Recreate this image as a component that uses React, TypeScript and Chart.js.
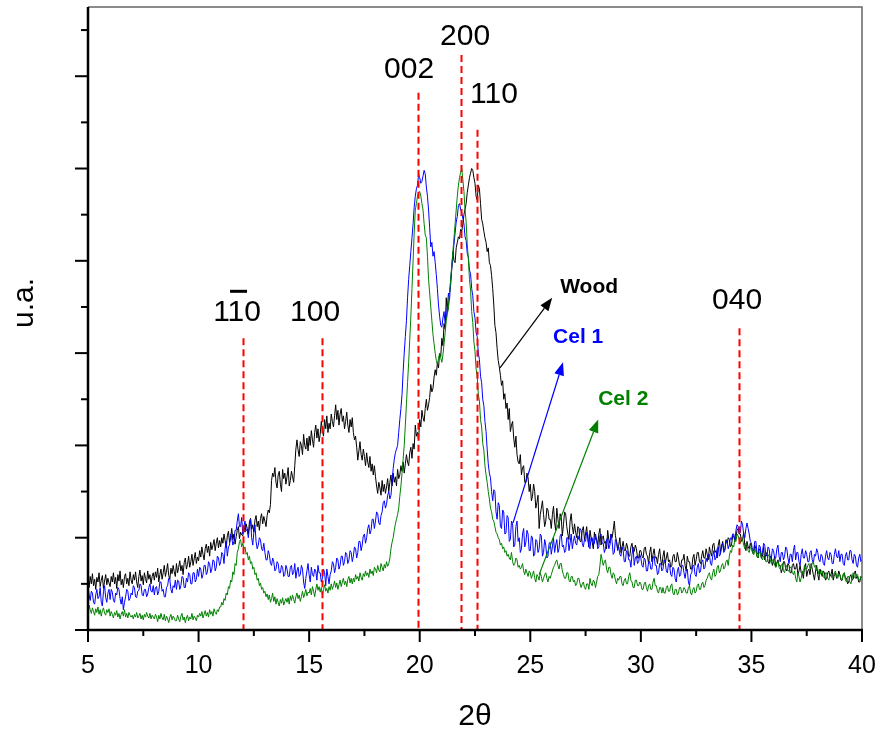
import React, { useEffect, useRef } from "react";
import { Chart, registerables } from "chart.js";

Chart.register(...registerables);

// ---- sampling grid (2θ, degrees) ----
const X_START = 5;
const X_STEP = 0.05;

// ---- intensity (a.u.), one row per degree: d.00 ... d.95 ----
const woodValues = [
  56, 46, 58, 50, 61, 48, 55, 44, 57, 52, 62, 47, 54, 59, 45, 53, 60, 49, 56, 51,
  47, 58, 52, 62, 50, 57, 45, 60, 53, 64, 49, 55, 46, 58, 61, 50, 56, 48, 63, 54,
  50, 60, 54, 63, 52, 46, 58, 65, 53, 59, 49, 62, 56, 51, 64, 55, 60, 50, 58, 62,
  54, 63, 57, 67, 52, 60, 66, 55, 62, 70, 58, 64, 72, 59, 55, 67, 61, 70, 63, 58,
  72, 62, 68, 75, 64, 70, 60, 73, 78, 66, 71, 80, 68, 74, 82, 70, 77, 84, 72, 79,
  75, 86, 79, 90, 82, 76, 88, 93, 84, 91, 80, 95, 87, 92, 98, 86, 94, 100, 89, 97,
  90, 100, 94, 104, 97, 89, 102, 107, 95, 100, 110, 98, 104, 93, 101, 108, 112, 99, 106, 103,
  102, 113, 106, 115, 110, 104, 117, 121, 109, 114, 106, 119, 124, 112, 118, 108, 121, 126, 115, 123,
  118, 112, 124, 130, 127, 136, 162, 170, 166, 176, 160, 154, 168, 172, 158, 150, 174, 164, 170, 158,
  166, 176, 156, 162, 172, 166, 160, 178, 196, 206, 195, 188, 204, 200, 190, 212, 200, 196, 208, 194,
  210, 200, 216, 206, 198, 214, 222, 208, 218, 204, 212, 226, 216, 210, 228, 218, 232, 214, 224, 218,
  234, 226, 220, 232, 244, 228, 238, 222, 234, 240, 226, 232, 218, 226, 236, 222, 214, 228, 220, 230,
  214, 206, 210, 198, 184, 194, 204, 190, 184, 196, 188, 178, 192, 182, 176, 188, 172, 180, 168, 178,
  166, 156, 148, 160, 154, 146, 162, 150, 158, 148, 155, 164, 150, 160, 168, 156, 170, 160, 166, 156,
  174, 164, 168, 178, 172, 182, 170, 180, 190, 182, 178, 192, 198, 186, 202, 196, 222, 210, 214, 206,
  228, 220, 238, 230, 226, 240, 250, 238, 244, 252, 266, 258, 262, 274, 282, 276, 290, 284, 300, 296,
  316, 308, 332, 326, 360, 344, 350, 366, 374, 392, 410, 400, 398, 414, 420, 426, 424, 434, 432, 440,
  450, 456, 462, 474, 482, 490, 495, 500, 498, 490, 484, 470, 466, 482, 478, 462, 445, 440, 432, 425,
  420, 410, 414, 398, 395, 384, 370, 352, 330, 322, 305, 292, 285, 276, 265, 270, 250, 256, 240, 246,
  228, 240, 215, 222, 226, 208, 198, 210, 190, 182, 180, 190, 168, 176, 178, 160, 160, 170, 165, 150,
  158, 140, 145, 158, 150, 132, 138, 146, 110, 125, 132, 140, 125, 112, 118, 132, 130, 120, 120, 110,
  125, 134, 116, 108, 132, 120, 110, 126, 122, 102, 114, 128, 126, 112, 104, 98, 118, 126, 112, 104,
  115, 106, 100, 112, 110, 96, 96, 108, 112, 98, 104, 112, 98, 90, 108, 100, 95, 88, 106, 98,
  98, 92, 104, 110, 92, 100, 102, 94, 96, 88, 108, 98, 94, 104, 100, 108, 118, 102, 96, 88,
  92, 100, 84, 90, 96, 86, 86, 94, 90, 80, 80, 90, 94, 84, 85, 92, 88, 78, 78, 86,
  86, 80, 78, 88, 90, 82, 80, 72, 84, 90, 74, 82, 88, 78, 79, 72, 82, 88, 76, 70,
  80, 86, 72, 78, 84, 74, 76, 68, 70, 80, 82, 74, 74, 84, 78, 70, 68, 76, 76, 82,
  70, 64, 80, 74, 74, 66, 66, 78, 82, 70, 76, 84, 84, 74, 72, 80, 86, 78, 78, 88,
  82, 76, 90, 84, 80, 92, 94, 84, 86, 78, 92, 98, 84, 90, 96, 86, 88, 98, 94, 100,
  98, 90, 92, 102, 102, 96, 100, 108, 110, 104, 104, 96, 98, 106, 92, 86, 96, 90, 88, 94,
  90, 84, 82, 92, 88, 80, 78, 88, 86, 78, 80, 90, 76, 82, 84, 74, 72, 80, 78, 70,
  74, 80, 68, 72, 76, 70, 70, 62, 66, 74, 74, 66, 64, 72, 70, 62, 62, 70, 72, 66,
  66, 72, 60, 64, 70, 62, 62, 56, 68, 72, 58, 64, 66, 60, 72, 66, 60, 54, 64, 70,
  60, 54, 66, 62, 58, 64, 62, 54, 56, 62, 64, 58, 60, 66, 54, 60, 62, 56, 58, 64,
  60, 54, 54, 60, 62, 56, 56, 50, 52, 58, 60, 54, 55, 62, 64, 56, 58, 52, 52, 58,
  56,
];

const cel1Values = [
  47, 38, 32, 42, 40, 30, 28, 38, 44, 34, 36, 46, 30, 26, 42, 48, 35, 30, 40, 44,
  33, 44, 41, 32, 30, 40, 38, 46, 44, 34, 28, 36, 22, 30, 36, 44, 42, 32, 34, 40,
  38, 48, 46, 36, 35, 42, 43, 50, 48, 38, 37, 44, 44, 36, 39, 46, 50, 42, 41, 48,
  38, 46, 47, 38, 42, 52, 52, 42, 44, 36, 36, 46, 48, 56, 55, 44, 40, 48, 46, 54,
  44, 54, 53, 44, 48, 58, 57, 46, 46, 56, 52, 62, 60, 50, 50, 62, 62, 52, 55, 66,
  58, 68, 66, 56, 60, 70, 70, 60, 63, 74, 72, 62, 66, 76, 75, 64, 68, 80, 78, 70,
  74, 84, 82, 72, 88, 96, 80, 90, 92, 104, 100, 92, 96, 108, 108, 118, 126, 112, 112, 122,
  104, 112, 118, 108, 108, 100, 112, 120, 100, 92, 106, 114, 96, 88, 92, 100, 98, 88, 86, 94,
  84, 76, 76, 86, 82, 72, 70, 78, 74, 64, 66, 74, 72, 62, 62, 70, 68, 58, 60, 70,
  66, 58, 58, 68, 70, 60, 62, 72, 56, 64, 68, 58, 60, 70, 66, 52, 45, 56, 64, 72,
  60, 52, 68, 60, 58, 66, 64, 54, 70, 62, 62, 52, 56, 66, 62, 48, 66, 58, 50, 60,
  64, 74, 72, 62, 68, 78, 76, 66, 70, 80, 80, 70, 74, 84, 82, 72, 76, 86, 84, 74,
  80, 90, 88, 78, 84, 96, 96, 86, 92, 102, 104, 94, 100, 110, 114, 104, 108, 120, 120, 110,
  118, 128, 126, 116, 114, 124, 128, 138, 140, 132, 136, 146, 150, 142, 146, 160, 175, 185, 192, 196,
  200, 214, 228, 240, 255, 280, 300, 318, 335, 360, 380, 395, 410, 425, 440, 458, 470, 478, 482, 494,
  490, 484, 486, 492, 498, 494, 480, 470, 455, 436, 415, 420, 405, 410, 398, 385, 370, 352, 340, 330,
  328, 338, 345, 332, 338, 350, 365, 358, 380, 392, 405, 418, 430, 442, 448, 460, 462, 456, 452, 446,
  440, 426, 422, 408, 404, 390, 386, 370, 362, 345, 338, 322, 318, 300, 293, 275, 268, 250, 243, 226,
  215, 196, 180, 170, 165, 150, 140, 152, 150, 128, 120, 138, 135, 112, 110, 130, 128, 104, 105, 124,
  122, 96, 98, 118, 115, 90, 92, 112, 118, 96, 100, 84, 88, 104, 110, 90, 95, 108, 104, 86,
  86, 102, 100, 80, 82, 98, 96, 84, 88, 104, 102, 80, 84, 98, 92, 78, 80, 94, 95, 82,
  90, 100, 84, 92, 98, 84, 88, 102, 104, 90, 92, 84, 86, 100, 100, 86, 94, 104, 88, 96,
  102, 94, 92, 102, 98, 110, 108, 94, 90, 98, 96, 106, 104, 90, 88, 100, 100, 92, 94, 104,
  98, 88, 90, 102, 104, 94, 94, 84, 88, 98, 100, 88, 92, 104, 96, 82, 84, 98, 96, 86,
  90, 82, 80, 90, 86, 74, 74, 86, 84, 76, 76, 68, 82, 90, 70, 78, 80, 72, 74, 82,
  78, 70, 68, 78, 76, 64, 64, 74, 74, 66, 66, 78, 80, 70, 70, 60, 62, 72, 72, 64,
  66, 76, 74, 64, 62, 72, 70, 60, 58, 68, 66, 56, 52, 64, 68, 58, 60, 70, 70, 62,
  56, 64, 66, 52, 48, 60, 62, 70, 70, 60, 58, 68, 72, 62, 64, 74, 76, 66, 68, 78,
  74, 82, 82, 72, 70, 80, 86, 76, 78, 88, 90, 80, 82, 92, 94, 84, 86, 96, 96, 88,
  92, 100, 98, 104, 104, 96, 108, 114, 112, 104, 106, 118, 114, 104, 100, 110, 116, 110, 104, 96,
  94, 86, 86, 96, 96, 84, 82, 92, 90, 80, 84, 94, 92, 82, 80, 90, 88, 78, 78, 88,
  86, 78, 78, 88, 92, 80, 74, 84, 84, 76, 80, 90, 88, 78, 72, 82, 82, 74, 86, 92,
  76, 84, 84, 74, 70, 82, 88, 78, 78, 86, 82, 74, 74, 84, 86, 76, 72, 82, 80, 88,
  84, 76, 74, 82, 80, 72, 70, 80, 86, 78, 76, 84, 82, 72, 72, 82, 88, 80, 78, 86,
  74, 82, 82, 72, 70, 80, 84, 76, 76, 86, 86, 76, 72, 82, 80, 70, 68, 78, 82, 74,
  76,
];

const cel2Values = [
  14, 27, 22, 18, 24, 20, 16, 23, 19, 25, 17, 22, 15, 21, 24, 18, 16, 22, 19, 23,
  15, 20, 17, 13, 19, 16, 21, 14, 18, 12, 17, 20, 15, 22, 14, 18, 13, 19, 16, 14,
  16, 12, 17, 14, 19, 13, 15, 18, 12, 16, 11, 17, 14, 19, 15, 13, 18, 12, 16, 14,
  12, 17, 14, 9, 16, 12, 18, 13, 11, 17, 10, 15, 12, 8, 14, 17, 11, 15, 13, 10,
  10, 16, 12, 9, 15, 18, 11, 14, 8, 13, 16, 10, 14, 12, 18, 11, 15, 13, 10, 16,
  14, 18, 15, 20, 13, 17, 21, 15, 19, 14, 22, 17, 20, 15, 23, 19, 17, 22, 20, 25,
  25, 30, 27, 34, 32, 40, 38, 47, 45, 54, 52, 63, 60, 72, 70, 84, 88, 96, 98, 90,
  94, 88, 90, 82, 84, 76, 80, 72, 74, 66, 68, 60, 62, 54, 56, 48, 51, 44, 46, 40,
  42, 36, 39, 33, 38, 30, 34, 40, 31, 36, 28, 34, 30, 26, 33, 29, 35, 27, 31, 34,
  30, 35, 28, 37, 32, 38, 33, 29, 36, 40, 34, 38, 31, 36, 42, 35, 39, 44, 37, 41,
  40, 45, 38, 47, 42, 36, 44, 50, 43, 47, 41, 46, 38, 44, 49, 42, 45, 40, 47, 43,
  50, 44, 48, 53, 46, 51, 44, 49, 54, 47, 52, 56, 49, 53, 47, 55, 58, 51, 56, 50,
  56, 52, 60, 55, 58, 53, 62, 57, 54, 61, 58, 64, 59, 62, 57, 66, 61, 64, 59, 68,
  66, 62, 70, 65, 63, 72, 68, 64, 71, 67, 74, 69, 72, 78, 88, 95, 100, 108, 115, 120,
  125, 132, 145, 156, 170, 185, 200, 222, 245, 268, 290, 315, 340, 370, 400, 430, 455, 462, 470, 474,
  475, 470, 462, 455, 440, 428, 425, 405, 380, 365, 350, 335, 320, 310, 300, 292, 288, 294, 300, 295,
  290, 298, 310, 322, 335, 342, 350, 365, 380, 395, 410, 425, 440, 455, 470, 482, 490, 496, 500, 488,
  475, 455, 442, 418, 402, 380, 368, 345, 333, 312, 302, 283, 275, 255, 248, 228, 220, 202, 195, 178,
  168, 160, 150, 142, 132, 128, 120, 118, 112, 106, 104, 100, 98, 92, 94, 88, 90, 84, 86, 80,
  82, 78, 76, 84, 74, 70, 72, 78, 76, 68, 70, 66, 68, 72, 64, 60, 66, 62, 58, 64,
  62, 56, 60, 64, 56, 52, 60, 58, 54, 62, 58, 52, 56, 60, 62, 56, 52, 58, 56, 60,
  64, 68, 70, 74, 76, 70, 66, 72, 72, 64, 60, 56, 56, 62, 62, 54, 52, 58, 58, 52,
  54, 48, 50, 56, 56, 50, 46, 50, 52, 46, 44, 50, 50, 44, 56, 50, 48, 54, 52, 46,
  52, 58, 60, 70, 82, 76, 70, 74, 76, 66, 62, 68, 68, 60, 56, 62, 60, 54, 50, 56,
  54, 58, 58, 50, 48, 54, 56, 50, 50, 58, 62, 54, 52, 46, 46, 54, 54, 48, 48, 52,
  50, 44, 44, 50, 52, 46, 42, 48, 50, 44, 44, 52, 56, 48, 48, 42, 40, 46, 46, 40,
  46, 40, 40, 46, 48, 42, 42, 48, 50, 40, 38, 44, 44, 38, 40, 46, 46, 40, 42, 46,
  44, 40, 40, 46, 48, 40, 38, 44, 46, 40, 42, 48, 50, 44, 44, 50, 52, 46, 48, 54,
  56, 60, 62, 56, 54, 62, 66, 58, 60, 68, 70, 62, 64, 70, 72, 66, 68, 74, 76, 70,
  80, 86, 84, 92, 90, 98, 96, 104, 102, 98, 94, 100, 98, 92, 88, 94, 92, 86, 84, 90,
  90, 84, 82, 86, 86, 80, 78, 84, 84, 78, 76, 80, 80, 74, 74, 80, 82, 76, 72, 76,
  76, 70, 68, 74, 74, 68, 66, 70, 72, 64, 62, 68, 70, 64, 64, 68, 68, 62, 60, 64,
  56, 52, 62, 58, 52, 56, 64, 60, 70, 66, 66, 70, 72, 66, 68, 72, 74, 68, 70, 64,
  66, 60, 60, 64, 64, 58, 56, 62, 62, 56, 54, 60, 60, 56, 58, 62, 64, 58, 56, 60,
  60, 56, 54, 60, 62, 54, 52, 58, 58, 52, 50, 56, 62, 58, 56, 60, 60, 54, 54, 58,
  58,
];

// ---- axes ----
const X_MIN = 5;
const X_MAX = 40;
const Y_MIN = 0;
const Y_MAX = 675;
const xMajorTicks = [5, 10, 15, 20, 25, 30, 35, 40];
const xTickLabels = ["5", "10", "15", "20", "25", "30", "35", "40"];
const xMinorTicks = [7.5, 12.5, 17.5, 22.5, 27.5, 32.5, 37.5];
const yMajorTicks = [0, 100, 200, 300, 400, 500, 600];
const yMinorTicks = [50, 150, 250, 350, 450, 550, 650];

// ---- reflections ----
const peakNames = ["110", "100", "002", "200", "110", "040"];
const peakOverbar = [true, false, false, false, false, false];
const peakPositions = [12.03, 15.6, 19.94, 21.86, 22.58, 34.44];
const peakLineTops = [316, 316, 582, 623, 542, 327];
const peakLabelX = [11.74, 15.27, 19.52, 22.05, 23.36, 34.35];
const peakLabelY = [335, 335, 598, 634, 571, 348];

// ---- series annotations ----
const seriesNames = ["Wood", "Cel 1", "Cel 2"];
const seriesColors = ["#000000", "#0000ff", "#008000"];
const seriesLabelX = [26.35, 26.03, 28.07];
const seriesLabelY = [365, 311, 244];
const arrowFromX = [23.63, 24.22, 25.4];
const arrowFromY = [284, 116, 60];
const arrowToX = [25.99, 26.48, 28.07];
const arrowToY = [360, 290, 228];

const FONT = '"Liberation Sans", Arial, Helvetica, sans-serif';

function toPoints(vals: number[]) {
  return vals.map((v, i) => ({ x: +(X_START + i * X_STEP).toFixed(3), y: v }));
}

const decorPlugin = {
  id: "decor",
  afterDatasetsDraw(chart: any) {
    const { ctx, chartArea: a } = chart;
    const xs = chart.scales.x;
    const ys = chart.scales.y;
    ctx.save();

    // red dashed reflection lines
    ctx.strokeStyle = "#ff0000";
    ctx.lineWidth = 2;
    ctx.setLineDash([7, 4]);
    peakPositions.forEach((p, i) => {
      const px = Math.round(xs.getPixelForValue(p)) + 0.5;
      ctx.beginPath();
      ctx.moveTo(px, ys.getPixelForValue(peakLineTops[i]));
      ctx.lineTo(px, a.bottom);
      ctx.stroke();
    });
    ctx.setLineDash([]);

    // reflection labels
    ctx.fillStyle = "#000";
    ctx.font = `30px ${FONT}`;
    ctx.textAlign = "center";
    ctx.textBaseline = "alphabetic";
    peakNames.forEach((n, i) => {
      const cx = xs.getPixelForValue(peakLabelX[i]);
      const by = ys.getPixelForValue(peakLabelY[i]);
      ctx.fillText(n, cx, by);
      if (peakOverbar[i]) {
        const w = ctx.measureText(n).width;
        const left = cx - w / 2;
        const cw = w / n.length;
        ctx.fillRect(left + cw + 1, by - 31, cw + 1, 3);
      }
    });

    // arrows
    arrowFromX.forEach((fx, i) => {
      const x0 = xs.getPixelForValue(fx);
      const y0 = ys.getPixelForValue(arrowFromY[i]);
      const x1 = xs.getPixelForValue(arrowToX[i]);
      const y1 = ys.getPixelForValue(arrowToY[i]);
      const ang = Math.atan2(y1 - y0, x1 - x0);
      const hl = 13;
      const hw = 5;
      const bx = x1 - hl * Math.cos(ang);
      const by = y1 - hl * Math.sin(ang);
      ctx.strokeStyle = seriesColors[i];
      ctx.fillStyle = seriesColors[i];
      ctx.lineWidth = 1.2;
      ctx.beginPath();
      ctx.moveTo(x0, y0);
      ctx.lineTo(bx, by);
      ctx.stroke();
      ctx.beginPath();
      ctx.moveTo(x1, y1);
      ctx.lineTo(bx + hw * Math.sin(ang), by - hw * Math.cos(ang));
      ctx.lineTo(bx - hw * Math.sin(ang), by + hw * Math.cos(ang));
      ctx.closePath();
      ctx.fill();
    });

    // series labels
    ctx.font = `bold 21px ${FONT}`;
    ctx.textAlign = "left";
    seriesNames.forEach((n, i) => {
      ctx.fillStyle = seriesColors[i];
      ctx.fillText(n, xs.getPixelForValue(seriesLabelX[i]), ys.getPixelForValue(seriesLabelY[i]));
    });

    // frame: top & right (thin grey)
    ctx.strokeStyle = "#666";
    ctx.lineWidth = 1.5;
    ctx.beginPath();
    ctx.moveTo(a.left, a.top);
    ctx.lineTo(a.right, a.top);
    ctx.lineTo(a.right, a.bottom);
    ctx.stroke();

    // axes lines: left & bottom (thick black)
    ctx.strokeStyle = "#000";
    ctx.lineWidth = 2.5;
    ctx.beginPath();
    ctx.moveTo(a.left, a.top);
    ctx.lineTo(a.left, a.bottom);
    ctx.lineTo(a.right + 1, a.bottom);
    ctx.stroke();

    // x ticks
    ctx.lineWidth = 2;
    xMajorTicks.forEach((t) => {
      const px = xs.getPixelForValue(t);
      ctx.beginPath();
      ctx.moveTo(px, a.bottom);
      ctx.lineTo(px, a.bottom + 12);
      ctx.stroke();
    });
    xMinorTicks.forEach((t) => {
      const px = xs.getPixelForValue(t);
      ctx.beginPath();
      ctx.moveTo(px, a.bottom);
      ctx.lineTo(px, a.bottom + 6);
      ctx.stroke();
    });
    // y ticks
    yMajorTicks.forEach((t) => {
      const py = ys.getPixelForValue(t);
      ctx.beginPath();
      ctx.moveTo(a.left, py);
      ctx.lineTo(a.left - 13, py);
      ctx.stroke();
    });
    yMinorTicks.forEach((t) => {
      const py = ys.getPixelForValue(t);
      ctx.beginPath();
      ctx.moveTo(a.left, py);
      ctx.lineTo(a.left - 7, py);
      ctx.stroke();
    });

    // x tick labels
    ctx.fillStyle = "#000";
    ctx.font = `25px ${FONT}`;
    ctx.textAlign = "center";
    ctx.textBaseline = "alphabetic";
    xMajorTicks.forEach((t, i) => {
      ctx.fillText(xTickLabels[i], xs.getPixelForValue(t), a.bottom + 43);
    });

    // axis titles
    ctx.font = `30px ${FONT}`;
    ctx.fillText("2θ", (a.left + a.right) / 2, a.bottom + 95);
    ctx.save();
    ctx.translate(33, 303);
    ctx.rotate(-Math.PI / 2);
    ctx.fillText("u.a.", 0, 0);
    ctx.restore();

    ctx.restore();
  },
};

export default function App() {
  const canvasRef = useRef<HTMLCanvasElement | null>(null);

  useEffect(() => {
    if (!canvasRef.current) return;
    const chart = new Chart(canvasRef.current, {
      type: "line",
      data: {
        datasets: [
          {
            label: seriesNames[0],
            data: toPoints(woodValues),
            borderColor: seriesColors[0],
            borderWidth: 1,
            pointRadius: 0,
            tension: 0,
            order: 3,
          },
          {
            label: seriesNames[1],
            data: toPoints(cel1Values),
            borderColor: seriesColors[1],
            borderWidth: 1,
            pointRadius: 0,
            tension: 0,
            order: 2,
          },
          {
            label: seriesNames[2],
            data: toPoints(cel2Values),
            borderColor: seriesColors[2],
            borderWidth: 1,
            pointRadius: 0,
            tension: 0,
            order: 1,
          },
        ],
      },
      options: {
        responsive: false,
        maintainAspectRatio: false,
        devicePixelRatio: 1,
        animation: false,
        layout: { padding: { left: 88, right: 18, top: 7, bottom: 101 } },
        plugins: { legend: { display: false }, tooltip: { enabled: false } },
        scales: {
          x: { type: "linear", min: X_MIN, max: X_MAX, display: false },
          y: { type: "linear", min: Y_MIN, max: Y_MAX, display: false },
        },
      },
      plugins: [decorPlugin],
    });
    return () => chart.destroy();
  }, []);

  return (
    <div style={{ position: "absolute", left: 0, top: 0, width: 880, height: 731, background: "#fff" }}>
      <canvas ref={canvasRef} width={880} height={731} style={{ display: "block" }} />
    </div>
  );
}
